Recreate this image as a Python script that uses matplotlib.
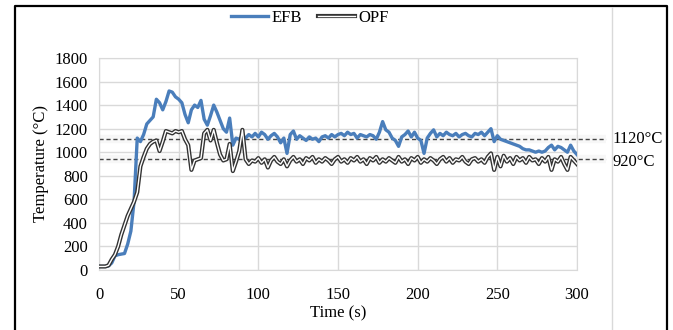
import matplotlib
matplotlib.use("Agg")
import matplotlib.pyplot as plt
from matplotlib.lines import Line2D
import numpy as np

plt.rcParams['font.family'] = ['Liberation Serif', 'DejaVu Serif']

time_s = list(range(0, 301, 2))

efb = [30, 30, 30, 35, 60, 120, 130, 135, 140, 220,
       330, 580, 1120, 1090, 1150, 1240, 1270, 1300, 1450, 1420,
       1360, 1430, 1520, 1510, 1470, 1450, 1420, 1320, 1250, 1360,
       1400, 1380, 1440, 1280, 1230, 1310, 1400, 1340, 1270, 1200,
       1170, 1290, 1060, 1120, 1110, 1140, 1120, 1150, 1130, 1160,
       1130, 1170, 1150, 1110, 1140, 1160, 1130, 1080, 1120, 990,
       1150, 1180, 1110, 1140, 1120, 1100, 1130, 1110, 1120, 1090,
       1130, 1140, 1120, 1150, 1130, 1150, 1160, 1140, 1170, 1150,
       1160, 1120, 1150, 1140, 1130, 1150, 1140, 1110, 1170, 1260,
       1190, 1170, 1120, 1100, 1050, 1130, 1150, 1180, 1130, 1170,
       1120, 1100, 990, 1120, 1160, 1190, 1130, 1160, 1140, 1170,
       1150, 1140, 1160, 1130, 1150, 1160, 1140, 1130, 1160, 1150,
       1170, 1140, 1170, 1200, 1090, 1140, 1110, 1100, 1090, 1080,
       1070, 1060, 1050, 1030, 1020, 1020, 1010, 1000, 1010, 1000,
       1010, 1040, 1060, 1020, 1050, 1040, 1020, 1000, 1060, 1010,
       980]

opf = [30, 30, 30, 40, 90, 130, 200, 300, 380, 460,
       520, 580, 660, 880, 960, 1030, 1070, 1090, 1100, 1010,
       1090, 1180, 1170, 1160, 1180, 1170, 1180, 1110, 1060, 850,
       930, 940, 950, 1160, 1190, 1100, 1190, 1080, 980, 930,
       940, 1070, 840, 920, 1010, 1190, 940, 900, 930, 920,
       950, 910, 940, 870, 930, 960, 920, 900, 940, 880,
       930, 960, 920, 940, 900, 950, 930, 960, 910, 940,
       920, 950, 930, 900, 940, 960, 920, 940, 910, 950,
       930, 960, 920, 940, 900, 950, 930, 960, 910, 940,
       920, 950, 930, 910, 960, 920, 940, 900, 950, 930,
       960, 910, 940, 920, 950, 930, 900, 940, 960, 920,
       950, 910, 940, 930, 960, 920, 900, 940, 950, 920,
       940, 910, 960, 990, 850, 960, 880, 970, 920, 950,
       900, 960, 930, 950, 910, 960, 930, 940, 900, 950,
       920, 960, 850, 940, 920, 960, 900, 850, 960, 930,
       900]

ref_levels = [1110, 945]
ref_labels = ["1120°C", "920°C"]

x_ticks = [0, 50, 100, 150, 200, 250, 300]
y_ticks = list(range(0, 1801, 200))

W, H = 673, 330
fig = plt.figure(figsize=(W / 100, H / 100), dpi=100)
ax = fig.add_axes([99 / W, 1 - 270 / H, (577 - 99) / W, (270 - 58) / H])

ax.set_xlim(0, 300)
ax.set_ylim(0, 1800)
ax.set_xticks(x_ticks)
ax.set_yticks(y_ticks)
ax.grid(True, color='#d9d9d9', lw=1.0)
ax.set_axisbelow(True)
for s in ax.spines.values():
    s.set_color('#d9d9d9')
ax.tick_params(length=0, labelsize=12, pad=8)
ax.tick_params(axis='x', pad=12)

# reference dashed lines with soft shadow
for lvl, lab, dy in zip(ref_levels, ref_labels, [0, -30]):
    ax.plot([0, 318], [lvl, lvl], color='#999999', lw=6, alpha=0.07,
            clip_on=False, solid_capstyle='butt', zorder=1)
    ax.plot([0, 318], [lvl, lvl], color='#444444', lw=1.0, ls=(0, (3, 2)),
            clip_on=False, zorder=2)
    ax.text(322, lvl + dy, lab, fontsize=12, va='center', ha='left',
            clip_on=False)

ax.plot(time_s, efb, color='#4a7ebb', lw=2.4, zorder=3)
ax.plot(time_s, opf, color='#333333', lw=3.0, zorder=4)
ax.plot(time_s, opf, color='#ffffff', lw=1.0, zorder=5)

ax.set_xlabel('Time (s)', fontsize=12, labelpad=2)
ax.set_ylabel('Temperature (°C)', fontsize=12, labelpad=4)

h_efb = Line2D([], [], color='#4a7ebb', lw=2.4)
h_opf_out = Line2D([], [], color='#333333', lw=3.0)
h_opf_in = Line2D([], [], color='#ffffff', lw=1.0)
fig.legend([h_efb, (h_opf_out, h_opf_in)], ['EFB', 'OPF'],
           loc='center', bbox_to_anchor=(310 / W, 1 - 18 / H), ncol=2,
           frameon=False, fontsize=12, handlelength=2.2, handletextpad=0.2,
           columnspacing=1.0)

# figure decorations: gray vertical divider and black border
fig.add_artist(Line2D([612 / W, 612 / W], [0, 1 - 8 / H], color='#d9d9d9',
                      lw=1.0, transform=fig.transFigure))
fig.add_artist(Line2D([15 / W, 15 / W, 667 / W, 667 / W],
                      [0, 1 - 6 / H, 1 - 6 / H, 0], color='black', lw=1.6,
                      transform=fig.transFigure))

fig.savefig('out.png', dpi=100)
